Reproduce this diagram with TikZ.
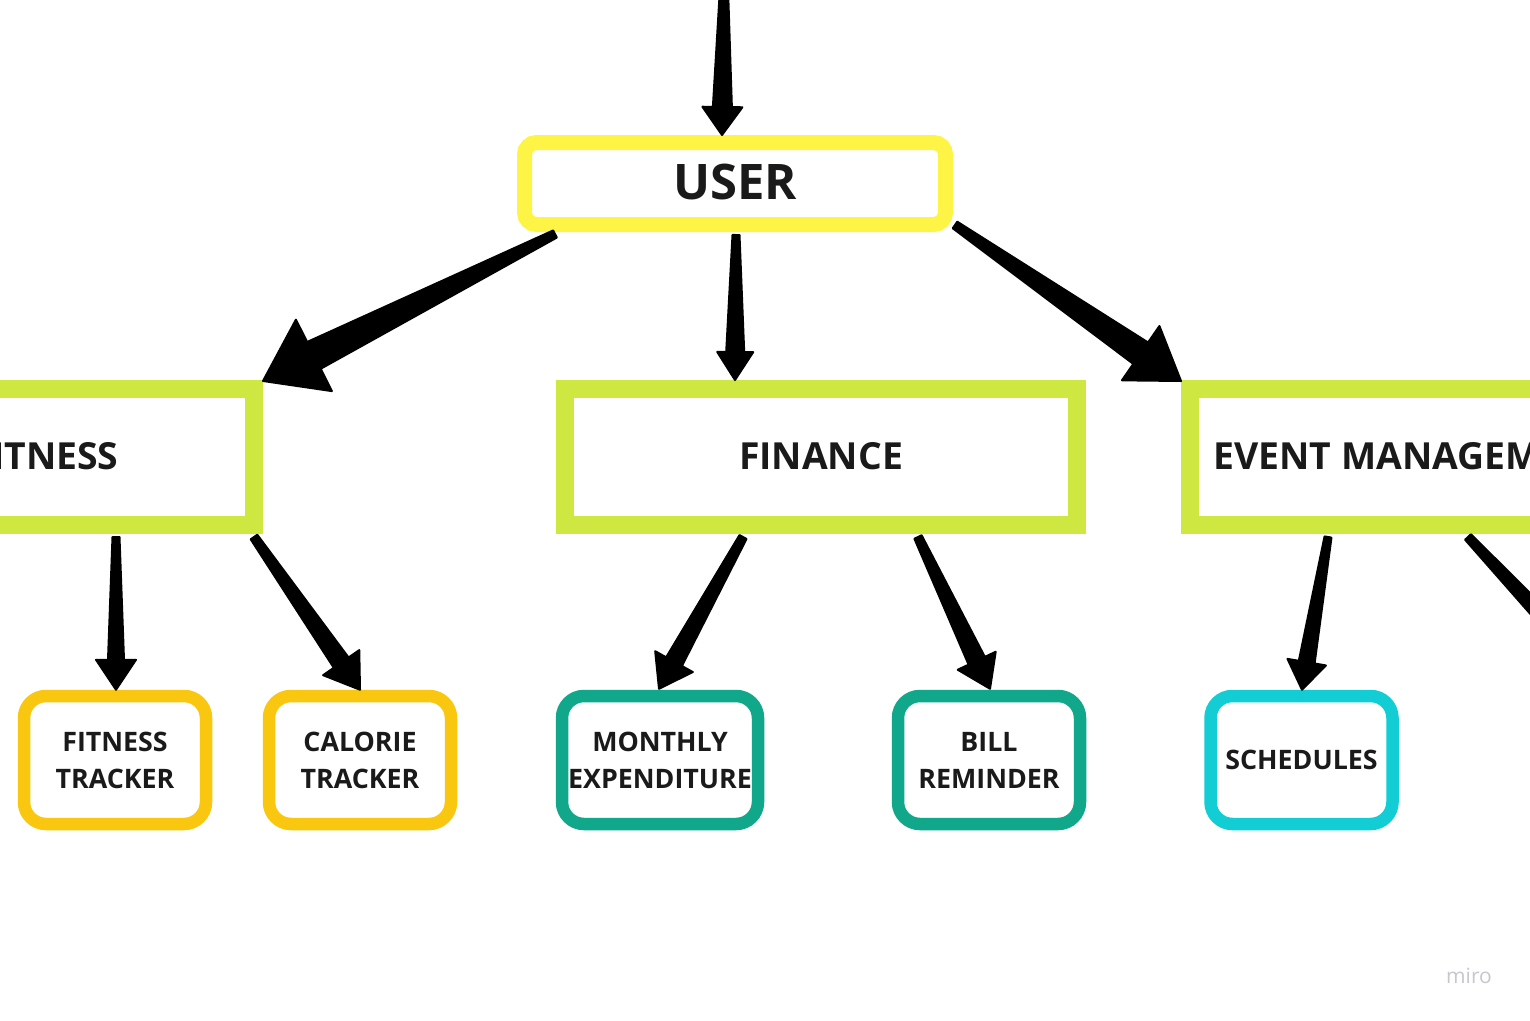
\documentclass[tikz,border=0pt]{standalone}
\usepackage{fontspec}
\setmainfont{Open Sans}
\usetikzlibrary{calc}
\definecolor{cUser}{HTML}{FEF445}
\definecolor{cLime}{HTML}{CEE741}
\definecolor{cOrange}{HTML}{FAC710}
\definecolor{cTeal}{HTML}{10A78A}
\definecolor{cCyan}{HTML}{12CDD4}
\definecolor{cText}{HTML}{1A1A1A}
\definecolor{cMiro}{HTML}{C6C7CF}
\tikzset{
  userbox/.style={draw=cUser, line width=15pt, rounded corners=12pt, minimum width=421pt, minimum height=82pt, inner sep=0pt, text=cText, font=\fontsize{49}{55}\selectfont\bfseries},
  catbox/.style={draw=cLime, line width=18pt, minimum width=512pt, minimum height=136pt, inner sep=0pt, text=cText, font=\fontsize{37.3}{42}\selectfont\bfseries},
  leafbox/.style={line width=12.5pt, rounded corners=22pt, minimum width=182pt, minimum height=128pt, inner sep=0pt, align=center, text=cText, font=\fontsize{26.8}{37}\selectfont\bfseries},
  arrowfill/.style={fill=black, draw=black, line width=2pt, line join=round},
}
% tapered arrow: #1 from, #2 to, #3 start half width, #4 shaft half width at head, #5 head length, #6 head half width
\newcommand\taperarrow[6]{%
  \coordinate (tb) at ($(#2)!#5!(#1)$);
  \path[arrowfill] ($(#1)!#3!90:(#2)$) -- ($(tb)!#4!-90:(#1)$) -- ($(tb)!#6!-90:(#1)$) -- (#2)
     -- ($(tb)!#6!90:(#1)$) -- ($(tb)!#4!90:(#1)$) -- ($(#1)!#3!-90:(#2)$) -- cycle;
}
\begin{document}
\begin{tikzpicture}[x=1pt, y=-1pt]
\useasboundingbox (0,0) rectangle (1530,1020);
\fill[white] (0,0) rectangle (1530,1020);
\clip (0,0) rectangle (1530,1020);

% nodes
\node[userbox] (user) at (735,183.5) {\raisebox{3.5pt}{USER}};
\node[catbox, minimum width=418pt] (fitness) at (45,457) {\raisebox{2.5pt}{FITNESS}};
\node[catbox] (finance) at (821,457) {\raisebox{2.5pt}{FINANCE}};
\node[catbox, minimum width=447pt] (event) at (1413.5,457) {\raisebox{2.5pt}{EVENT MANAGEMENT}};

\node[leafbox, draw=cOrange] (ft) at (115,760) {FITNESS\\TRACKER};
\node[leafbox, draw=cOrange] (ct) at (360,760) {CALORIE\\TRACKER};
\node[leafbox, draw=cTeal, minimum width=196pt] (mo) at (660,760) {MONTHLY\\EXPENDITURE};
\node[leafbox, draw=cTeal] (bi) at (989,760) {BILL\\REMINDER};
\node[leafbox, draw=cCyan] (sc) at (1301.5,760) {SCHEDULES};

\node[text=cMiro, font=\fontsize{21}{24}\selectfont] (miro) at (1469,976) {miro};

% connector end points
\coordinate (topin) at (724,-12);
\coordinate (t1) at ($(user.north)+(-13,0)$);
\coordinate (s2) at ($(user.south west)+(38,2)$);
\coordinate (t2) at ($(fitness.north east)+(0,1)$);
\coordinate (s3) at ($(user.south)+(1,3)$);
\coordinate (t3) at ($(finance.north)+(-86,0)$);
\coordinate (s4) at ($(user.south east)+(2,-7)$);
\coordinate (t4) at ($(event.north west)+(0,1)$);
\coordinate (s5) at ($(fitness.south east)+(-147,3)$);
\coordinate (t5) at ($(ft.north)+(1,0)$);
\coordinate (s6) at ($(fitness.south east)+(-9,3)$);
\coordinate (t6) at (ct.north);
\coordinate (s7) at ($(finance.south)+(-78,3)$);
\coordinate (t7) at ($(mo.north)+(-1,-1)$);
\coordinate (s8) at ($(finance.south)+(97,3)$);
\coordinate (t8) at ($(bi.north)+(1,-1)$);
\coordinate (s9) at ($(event.south west)+(147,3)$);
\coordinate (t9) at ($(sc.north)+(0.5,0)$);
\coordinate (s10) at ($(event.south west)+(287,3)$);
\coordinate (offnode) at (1612,690);

% connectors
\taperarrow{topin}{t1}{4pt}{9.5pt}{28pt}{20pt}
\taperarrow{s2}{t2}{4pt}{15pt}{57pt}{40pt}
\taperarrow{s3}{t3}{3.5pt}{9pt}{28pt}{18pt}
\taperarrow{s4}{t4}{4pt}{13pt}{49pt}{33pt}
\taperarrow{s5}{t5}{3.5pt}{8pt}{30pt}{20pt}
\taperarrow{s6}{t6}{4pt}{9pt}{33pt}{22pt}
\taperarrow{s7}{t7}{4pt}{9pt}{31pt}{21.5pt}
\taperarrow{s8}{t8}{4pt}{9pt}{31pt}{21pt}
\taperarrow{s9}{t9}{3.5pt}{8pt}{28pt}{19.5pt}
\taperarrow{s10}{offnode}{4pt}{10pt}{33pt}{22pt}
\end{tikzpicture}
\end{document}
